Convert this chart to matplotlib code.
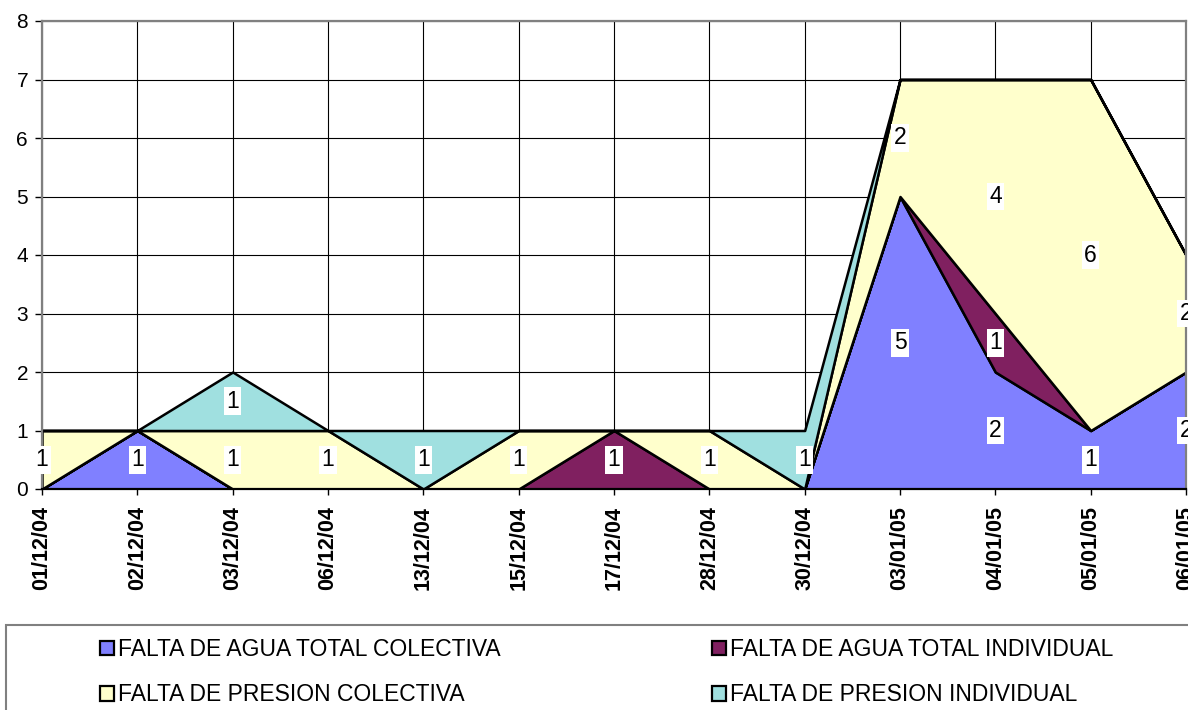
import matplotlib.pyplot as plt
from matplotlib.patches import Patch, Rectangle
import numpy as np

plt.rcParams['font.family'] = ['Liberation Sans', 'DejaVu Sans']

fechas = ['01/12/04', '02/12/04', '03/12/04', '06/12/04', '13/12/04', '15/12/04', '17/12/04',
          '28/12/04', '30/12/04', '03/01/05', '04/01/05', '05/01/05', '06/01/05']
agua_colectiva = [0, 1, 0, 0, 0, 0, 0, 0, 0, 5, 2, 1, 2]
agua_individual = [0, 0, 0, 0, 0, 0, 1, 0, 0, 0, 1, 0, 0]
presion_colectiva = [1, 0, 1, 1, 0, 1, 0, 1, 0, 2, 4, 6, 2]
presion_individual = [0, 0, 1, 0, 1, 0, 0, 0, 1, 0, 0, 0, 0]

nombres = ['FALTA DE AGUA TOTAL COLECTIVA', 'FALTA DE AGUA TOTAL INDIVIDUAL',
           'FALTA DE PRESION COLECTIVA', 'FALTA DE PRESION INDIVIDUAL']
colores = ['#8080FF', '#802060', '#FFFFCC', '#A0E0E0']
series = [agua_colectiva, agua_individual, presion_colectiva, presion_individual]

fig = plt.figure(figsize=(11.88, 7.10), dpi=100)
ax = fig.add_axes([42 / 1188, 1 - 489 / 710, 1144 / 1188, 468 / 710])

x = np.arange(len(fechas))
base = np.zeros(len(fechas))
for vals, color in zip(series, colores):
    vals = np.array(vals, dtype=float)
    ax.fill_between(x, base, base + vals, facecolor=color, edgecolor='black',
                    linewidth=1.8, joinstyle='round', zorder=2)
    for i, v in enumerate(vals):
        if v > 0:
            ax.text(i, base[i] + v / 2, f'{int(v)}', ha='center', va='center', fontsize=16.5,
                    bbox=dict(boxstyle='square,pad=0.1', fc='white', ec='none'),
                    zorder=4, clip_on=False)
    base = base + vals

ax.set_xlim(0, len(fechas) - 1)
ax.set_ylim(0, 8)
ax.set_xticks(x)
ax.set_xticklabels(fechas, rotation=90, fontsize=15.5, fontweight='bold', va='top')
ax.set_yticks(range(0, 9))
ax.tick_params(axis='y', labelsize=15, length=5, width=1, pad=5)
ax.tick_params(axis='x', length=4, width=1, pad=8)
ax.grid(True, color='black', linewidth=0.8)
ax.set_axisbelow(True)

for side in ['left', 'top', 'right']:
    ax.spines[side].set_color('#808080')
    ax.spines[side].set_linewidth(1.6)
ax.spines['bottom'].set_color('black')
ax.spines['bottom'].set_linewidth(1.6)
ax.spines['bottom'].set_zorder(5)

# legend box (runs off the figure edges like the original)
fig.patches.append(Rectangle((6 / 1188, -0.2), 1.2, 0.2 + 1 - 625 / 710,
                             transform=fig.transFigure, facecolor='none',
                             edgecolor='#808080', linewidth=1.5))

handles = [Patch(facecolor=c, edgecolor='black', linewidth=1.6) for c in colores]
for col, xpos in enumerate([100, 712]):
    fig.legend(handles[col::2], nombres[col::2], loc='upper left',
               bbox_to_anchor=(xpos / 1188, 1 - 638 / 710), frameon=False,
               fontsize=16.5, handlelength=0.6, handleheight=0.6, handletextpad=0.2,
               labelspacing=0.98, borderpad=0, borderaxespad=0)

fig.savefig('out.png', dpi=100)
